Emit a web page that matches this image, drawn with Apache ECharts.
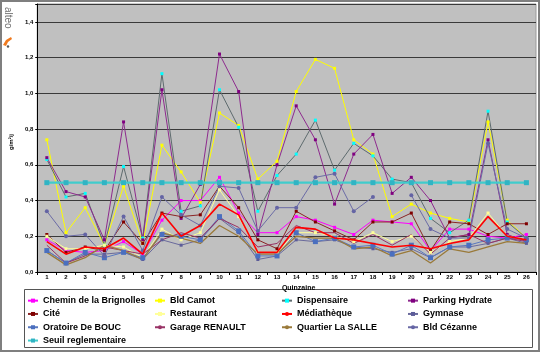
<!DOCTYPE html>
<html>
<head>
  <meta charset="utf-8">
  <title>Retombées de poussières</title>
  <style>
    html, body { margin: 0; padding: 0; background: #fff; }
    #chart { width: 540px; height: 352px; }
  </style>
</head>
<body>
  <div id="chart"></div>
  <script src="https://cdn.jsdelivr.net/npm/echarts@6/dist/echarts.min.js"></script>
  <script>
  const quinzaines = ['1','2','3','4','5','6','7','8','9','10','11','12','13','14','15','16','17','18','19','20','21','22','23','24','25','26'];
  const yTicks = [0, 0.2, 0.4, 0.6, 0.8, 1.0, 1.2, 1.4];

  const chemin = [0.18,0.12,0.11,0.12,0.17,0.10,0.29,0.40,0.40,0.53,0.33,0.22,0.22,0.31,0.29,0.25,0.21,0.29,0.28,0.27,0.12,0.24,0.24,0.20,0.19,0.21];
  const bldCamot = [0.74,0.22,0.36,0.15,0.48,0.16,0.71,0.56,0.39,0.89,0.82,0.52,0.62,1.01,1.19,1.14,0.74,0.66,0.31,0.38,0.33,0.30,0.28,0.84,0.29,0.19];
  const dispensaire = [0.63,0.42,0.44,0.15,0.59,0.19,1.11,0.34,0.37,1.02,0.81,0.34,0.54,0.66,0.85,0.57,0.72,0.65,0.52,0.50,0.30,0.22,0.29,0.90,0.28,0.19];
  const parking = [0.64,0.45,0.42,0.18,0.84,0.18,1.02,0.30,0.49,1.22,1.01,0.21,0.60,0.93,0.74,0.38,0.66,0.77,0.44,0.53,0.40,0.19,0.21,0.74,0.21,0.17];
  const cite = [0.21,0.11,0.14,0.12,0.28,0.16,0.33,0.31,0.32,0.48,0.36,0.18,0.13,0.34,0.28,0.23,0.18,0.28,0.28,0.33,0.12,0.28,0.27,0.21,0.27,0.27];
  const restaurant = [0.20,0.13,0.13,0.15,0.14,0.08,0.24,0.18,0.22,0.46,0.31,0.11,0.11,0.22,0.22,0.20,0.17,0.22,0.17,0.20,0.11,0.17,0.19,0.33,0.20,0.18];
  const mediatheque = [0.17,0.10,0.14,0.13,0.19,0.10,0.33,0.20,0.26,0.38,0.32,0.11,0.11,0.25,0.24,0.19,0.18,0.16,0.14,0.15,0.13,0.16,0.18,0.31,0.20,0.18];
  const gymnase = [0.12,0.05,0.10,0.10,0.11,0.07,0.18,0.15,0.18,0.30,0.22,0.07,0.09,0.18,0.17,0.18,0.14,0.13,0.11,0.13,0.08,0.14,0.14,0.16,0.19,0.16];
  const oratoire = [0.12,0.05,0.11,0.08,0.11,0.08,0.21,0.20,0.18,0.31,0.23,0.09,0.09,0.22,0.17,0.19,0.14,0.15,0.10,0.15,0.08,0.14,0.15,0.18,0.19,0.18];
  const garage = [0.15,0.05,0.09,0.14,0.12,0.10,0.18,0.22,0.19,0.30,0.25,0.14,0.16,0.26,0.22,0.22,0.16,0.21,0.15,0.21,0.10,0.19,0.21,0.16,0.19,0.17];
  const laSalle = [0.11,0.04,0.08,0.15,0.12,0.07,0.22,0.19,0.16,0.26,0.20,0.10,0.10,0.20,0.19,0.19,0.13,0.14,0.09,0.12,0.05,0.13,0.11,0.14,0.17,0.16];
  const cezanne = [0.34,0.20,0.21,0.09,0.31,0.12,0.42,0.32,0.26,0.48,0.47,0.23,0.36,0.36,0.53,0.55,0.34,0.42,null,0.43,0.24,0.19,0.19,0.72,0.24,0.19];
  const seuil = [0.5,0.5,0.5,0.5,0.5,0.5,0.5,0.5,0.5,0.5,0.5,0.5,0.5,0.5,0.5,0.5,0.5,0.5,0.5,0.5,0.5,0.5,0.5,0.5,0.5,0.5];

  const font = "'Liberation Sans', Arial, sans-serif";

  // name, data, line colour, marker colour, extra
  const line = (name, data, color, mark, o = {}) => ({
    name: name,
    type: 'line',
    data: data,
    z: o.z || 2,
    symbol: o.symbol === undefined ? 'rect' : o.symbol,
    symbolSize: o.size || 3,
    connectNulls: false,
    lineStyle: { color: color, width: o.width || 1 },
    itemStyle: { color: mark, borderWidth: 0 },
    emphasis: { disabled: true },
    animation: false
  });

  const series = [
    line('Chemin de la Brignolles', chemin, '#FF00FF', '#FF00FF'),
    line('Bld Camot', bldCamot, '#FFFF00', '#FFFF00'),
    line('Dispensaire', dispensaire, '#5E6B6E', '#00FFFF'),
    line('Parking Hydrate', parking, '#8E2A8E', '#800080'),
    line('Cité', cite, '#8B2525', '#800000'),
    line('Restaurant', restaurant, '#FFFF99', '#FFFF99'),
    line('Médiathèque', mediatheque, '#FF0000', '#FF0000', { symbol: 'none', width: 1.6, z: 3 }),
    line('Gymnase', gymnase, '#6A6A9C', '#5C5C99'),
    line('Oratoire De BOUC', oratoire, '#5A78BE', '#4A6FBF', { size: 5 }),
    line('Garage RENAULT', garage, '#993366', '#993366', { symbol: 'none' }),
    line('Quartier La SALLE', laSalle, '#9A7A3A', '#9A7A3A', { symbol: 'none', width: 1.3 }),
    line('Bld Cézanne', cezanne, '#6B6BA6', '#6464A4', { symbol: 'circle', size: 4 }),
    line('Seuil reglementaire', seuil, '#40CCCC', '#30B4C4', { size: 5, width: 2.2 })
  ];

  const legendCols = [
    ['Chemin de la Brignolles', 'Cité', 'Oratoire De BOUC', 'Seuil reglementaire'],
    ['Bld Camot', 'Restaurant', 'Garage RENAULT'],
    ['Dispensaire', 'Médiathèque', 'Quartier La SALLE'],
    ['Parking Hydrate', 'Gymnase', 'Bld Cézanne']
  ];
  const legendLeft = [27, 154, 281, 407];

  const legends = legendCols.map((names, i) => ({
    data: names,
    orient: 'vertical',
    left: legendLeft[i],
    top: 294,
    itemWidth: 10,
    itemHeight: 5,
    itemGap: 0,
    padding: 0,
    selectedMode: false,
    textStyle: { fontFamily: font, fontSize: 9, fontWeight: 'bold', color: '#000', lineHeight: 13.3 }
  }));

  const chart = echarts.init(document.getElementById('chart'), null, { renderer: 'canvas' });
  chart.setOption({
    backgroundColor: '#fff',
    animation: false,
    textStyle: { fontFamily: font },
    grid: {
      left: 26, right: 4, top: 4, bottom: 80,
      show: true, backgroundColor: '#C0C0C0', borderColor: '#9A9A9A', borderWidth: 1
    },
    legend: legends,
    xAxis: {
      type: 'category',
      data: quinzaines,
      boundaryGap: true,
      name: 'Quinzaine',
      nameLocation: 'middle',
      nameGap: 13,
      nameTextStyle: { fontFamily: font, fontSize: 7, fontWeight: 'bold', color: '#000', padding: [0, 0, 0, 24] },
      axisLine: { lineStyle: { color: '#000', width: 1 } },
      axisTick: { show: true, length: 3, lineStyle: { color: '#000' } },
      axisLabel: { fontFamily: font, fontSize: 6, fontWeight: 'bold', color: '#000', margin: 2, interval: 0 },
      splitLine: { show: false }
    },
    yAxis: {
      type: 'value',
      min: 0,
      max: 1.5,
      interval: 0.2,
      name: 'g/m²/j',
      nameLocation: 'middle',
      nameRotate: 90,
      nameGap: 10,
      nameTextStyle: { fontFamily: font, fontSize: 6, fontWeight: 'bold', color: '#000', padding: [0, 0, 0, -8] },
      axisLine: { show: true, lineStyle: { color: '#000', width: 1 } },
      axisTick: { show: true, length: 2, lineStyle: { color: '#000' } },
      axisLabel: {
        fontFamily: font, fontSize: 6, fontWeight: 'bold', color: '#000', margin: 4,
        formatter: v => (yTicks.some(t => Math.abs(t - v) < 1e-6) ? v.toFixed(1).replace('.', ',') : '')
      },
      splitLine: { show: true, lineStyle: { color: '#3A3A3A', width: 1 } }
    },
    series: series,
    graphic: [
      { type: 'rect', shape: { x: 1, y: 1, width: 538, height: 350 }, style: { fill: 'none', stroke: '#7F7F7F', lineWidth: 2 }, z: -10, silent: true },
      { type: 'rect', shape: { x: 24.5, y: 289.5, width: 508, height: 58 }, style: { fill: '#fff', stroke: '#555', lineWidth: 1 }, z: -5, silent: true },
      // logo
      { type: 'text', x: 13, y: 7, rotation: -Math.PI / 2, style: { text: 'alteo', fontFamily: font, fontSize: 10, fill: '#6E6E6E', align: 'left', verticalAlign: 'top' }, z: 20, silent: true },
      { type: 'polygon', shape: { points: [[3, 45], [6, 40], [11, 37], [12, 39], [8, 42], [6, 46]] }, style: { fill: '#F07A1E' }, z: 20, silent: true },
      { type: 'circle', shape: { cx: 8, cy: 46.5, r: 1.2 }, style: { fill: '#555' }, z: 20, silent: true }
    ]
  });
  </script>
</body>
</html>
